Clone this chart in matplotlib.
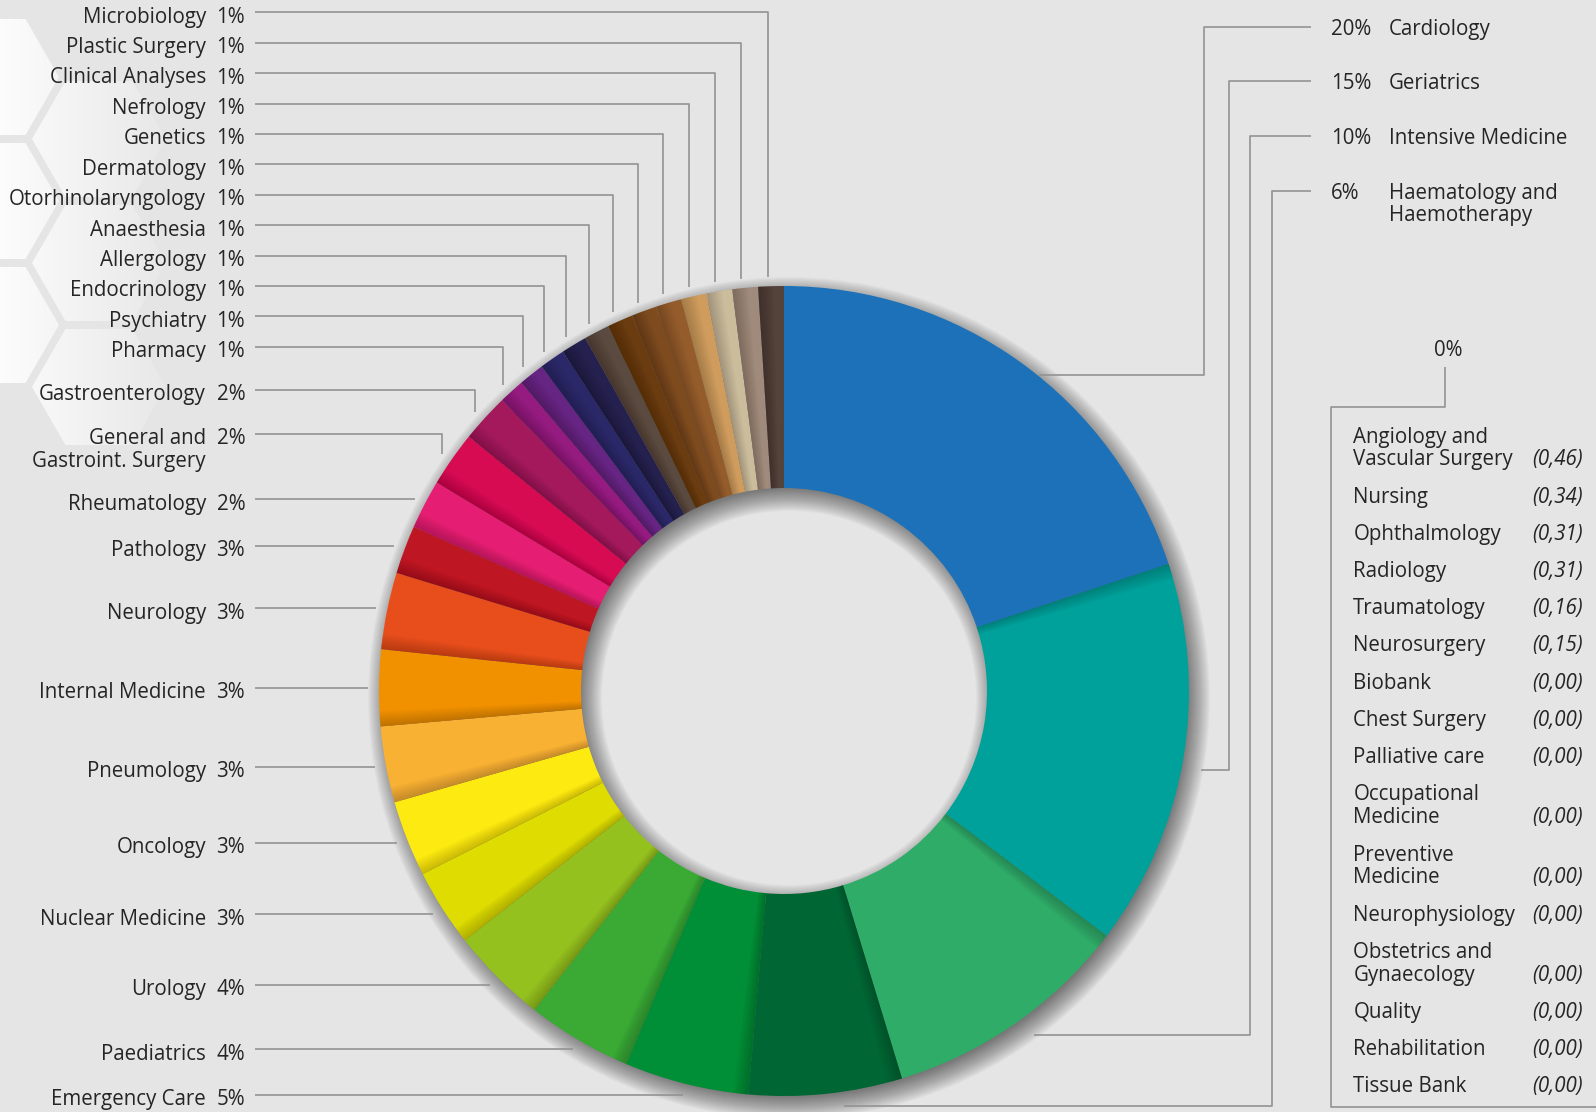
import numpy as np
import matplotlib
matplotlib.use("Agg")
import matplotlib.pyplot as plt
from matplotlib.patches import Wedge, RegularPolygon

# --- data (clockwise from 12 o'clock) ---
departments = [
    "Cardiology", "Geriatrics", "Intensive Medicine", "Haematology and\nHaemotherapy",
    "Emergency Care", "Paediatrics", "Urology", "Nuclear Medicine", "Oncology",
    "Pneumology", "Internal Medicine", "Neurology", "Pathology", "Rheumatology",
    "General and\nGastroint. Surgery", "Gastroenterology", "Pharmacy", "Psychiatry",
    "Endocrinology", "Allergology", "Anaesthesia", "Otorhinolaryngology", "Dermatology",
    "Genetics", "Nefrology", "Clinical Analyses", "Plastic Surgery", "Microbiology",
]
shares = [19.9, 15.4, 9.95, 6.1, 4.96, 4.2, 3.87, 3.09, 3.03, 3.03, 3.04, 3.06, 1.93, 1.96,
          2.2, 1.94, 1.02, 1.02, 1.02, 1.02, 1.02, 1.02, 1.02, 1.02, 1.02, 1.02, 1.02, 1.02]
pct_labels = ["20%", "15%", "10%", "6%", "5%", "4%", "4%", "3%", "3%", "3%", "3%", "3%",
              "3%", "2%", "2%", "2%", "1%", "1%", "1%", "1%", "1%", "1%", "1%", "1%",
              "1%", "1%", "1%", "1%"]
colors = [
    "#1d71b8", "#00a19a", "#2fac68", "#006633", "#008e36", "#3aaa35", "#95c11f", "#dedc00",
    "#fdea10", "#f8b133", "#f29100", "#e84e1b", "#be1622", "#e61e73", "#d60b52", "#a3195b",
    "#951b81", "#662483", "#2b2869", "#25214f", "#5b4a40", "#6a3c10", "#7e4b1f", "#955c2b",
    "#cf9c5d", "#cbbd9c", "#a08a7b", "#54433a",
]

zero_departments = [
    "Angiology and\nVascular Surgery", "Nursing", "Ophthalmology", "Radiology",
    "Traumatology", "Neurosurgery", "Biobank", "Chest Surgery", "Palliative care",
    "Occupational\nMedicine", "Preventive\nMedicine", "Neurophysiology",
    "Obstetrics and\nGynaecology", "Quality", "Rehabilitation", "Tissue Bank",
]
zero_values = ["(0,46)", "(0,34)", "(0,31)", "(0,31)", "(0,16)", "(0,15)", "(0,00)",
               "(0,00)", "(0,00)", "(0,00)", "(0,00)", "(0,00)", "(0,00)", "(0,00)",
               "(0,00)", "(0,00)"]

# --- layout (pixel coordinates, y downwards) ---
W, H = 1596, 1112
BG = "#e5e5e5"
TXT = "#252525"
LINE = "#939393"
FONT = ["Open Sans", "DejaVu Sans"]
FS = 14.8
cx, cy, R, R_IN = 784, 691, 405, 203

fig = plt.figure(figsize=(W / 100, H / 100), dpi=100)
fig.patch.set_facecolor(BG)
ax = fig.add_axes([0, 0, 1, 1])
ax.set_facecolor(BG)

# honeycomb decoration in the top-left corner
grad = np.zeros((2, 256, 4))
grad[..., :3] = 1.0
grad[..., 3] = np.linspace(0.95, 0.0, 256)[None, :]
for hx, hy in [(-8, 77), (-8, 201), (-8, 325), (99, 139), (99, 263), (99, 387)]:
    hexa = RegularPolygon((hx, hy), numVertices=6, radius=67, orientation=np.pi / 6,
                          facecolor="none", edgecolor="none")
    ax.add_patch(hexa)
    im = ax.imshow(grad, extent=(-10, 190, hy + 70, hy - 70), aspect="auto",
                   zorder=0.5, interpolation="bilinear")
    im.set_clip_path(hexa)

# soft drop shadow under the ring, pushed down and to the right
for s in range(-8, 17):
    ax.add_patch(Wedge((cx + 5, cy + 7), R + s, 0, 360, width=(R + s) - (R_IN - s),
                       facecolor="black", edgecolor="none", alpha=0.022, zorder=1))

wedges, _ = ax.pie(shares, colors=colors, startangle=-90, counterclock=True,
                   radius=R, center=(cx, cy), frame=True,
                   wedgeprops=dict(width=R - R_IN, linewidth=0, zorder=2))

# each slice sits under the previous one: shade its leading edge
for w in wedges[1:]:
    span = w.theta2 - w.theta1
    wmax = min(2.2, 0.6 * span)
    for k in range(1, 11):
        ax.add_patch(Wedge((cx, cy), R, w.theta1, w.theta1 + wmax * k / 10,
                           width=R - R_IN, facecolor="black", edgecolor="none",
                           alpha=0.019, zorder=3))


def ring_point(w, rr):
    th = np.deg2rad((w.theta1 + w.theta2) / 2)
    return cx + rr * np.cos(th), cy + rr * np.sin(th)


def draw_line(xs, ys):
    ax.plot(xs, ys, color=LINE, lw=1.2, solid_capstyle="butt", zorder=4)


def label(x, y, s, ha="left", style="normal"):
    ax.text(x, y, s, ha=ha, va="baseline", fontsize=FS, color=TXT,
            family=FONT, style=style, zorder=5)


# right side labels
right_x = [1204, 1229, 1250, 1272]
right_y = [26.7, 81, 136, 191]
for i in range(4):
    px, py = ring_point(wedges[i], R)
    ex, ey = px + 18, py + 12
    draw_line([1311, right_x[i], right_x[i], ex], [right_y[i], right_y[i], ey, ey])
    label(1331, right_y[i] + 8.3, pct_labels[i])
    for j, part in enumerate(departments[i].split("\n")):
        label(1389, right_y[i] + 8.3 + j * 21.7, part)

# left side, straight leaders (Emergency Care .. Rheumatology)
for i in range(4, 14):
    ex, ey = ring_point(wedges[i], R + 11)
    draw_line([255, ex], [ey, ey])
    label(206, ey + 10.4, departments[i], ha="right")
    label(216.5, ey + 10.4, pct_labels[i])

# left side, elbow leaders (General Surgery .. Microbiology)
elbow_y = [433.6, 390, 346.7, 316.3, 285.9, 255.5, 225.1, 194.7, 164.3, 133.9,
           103.5, 73.1, 42.7, 12.3]
for i, ly in zip(range(14, 28), elbow_y):
    ex, ey = ring_point(wedges[i], R + 9)
    draw_line([255, ex - 3, ex - 3], [ly, ly, ey])
    for j, part in enumerate(departments[i].split("\n")):
        label(206, ly + 10.4 + j * 22.7, part, ha="right")
    label(216.5, ly + 10.4, pct_labels[i])

# 0% bracket and list
ax.text(1448.5, 350.7, "0%", ha="center", va="center", fontsize=FS, color=TXT,
        family=FONT, zorder=5)
draw_line([1445, 1445, 1330.7, 1330.7, W], [366.7, 406.7, 406.7, 1106.7, 1106.7])
yv = 397.1
for name, val in zip(zero_departments, zero_values):
    parts = name.split("\n")
    yv += 37.2 + 23 * (len(parts) - 1)
    for j, part in enumerate(parts):
        label(1353.3, yv + 8 - (len(parts) - 1 - j) * 22.7, part)
    label(1582.7, yv + 8, val, ha="right", style="italic")

ax.set_xlim(0, W)
ax.set_ylim(H, 0)
ax.axis("off")
fig.savefig("out.png", dpi=100, facecolor=BG)
